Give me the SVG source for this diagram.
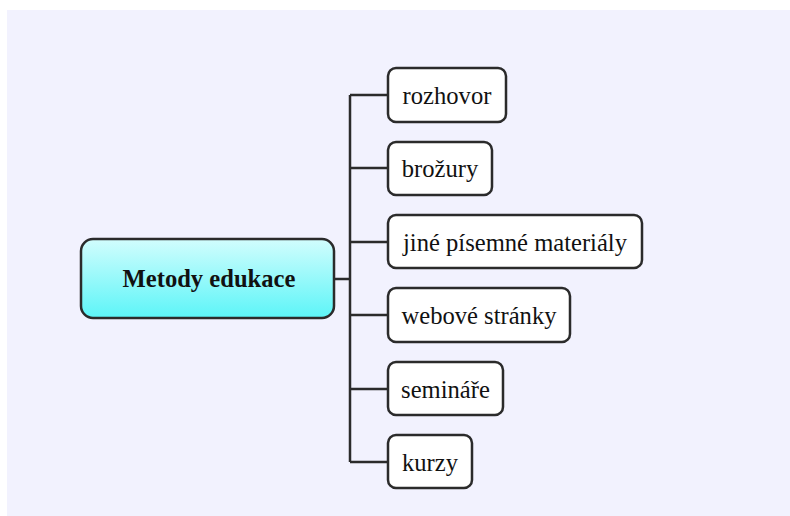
<svg xmlns="http://www.w3.org/2000/svg" width="790" height="516" viewBox="0 0 790 516">
  <style>
    .topic { fill: #ffffff; stroke: #2b2b2b; stroke-width: 2.5; }
    .root { fill: url(#rootFill); stroke: #2b2b2b; stroke-width: 2.5; }
    .label { font-family: "Liberation Serif", "Times New Roman", serif; font-size: 24.6px; fill: #111111; text-anchor: middle; }
    .rootLabel { font-family: "Liberation Serif", "Times New Roman", serif; font-size: 24.6px; font-weight: bold; fill: #111111; text-anchor: middle; }
    .wire { fill: none; stroke: #2b2b2b; stroke-width: 2.5; }
  </style>
  <defs>
    <linearGradient id="rootFill" x1="0" y1="0" x2="0" y2="1">
      <stop offset="0" stop-color="#d2fdfd"/>
      <stop offset="1" stop-color="#5cf5f8"/>
    </linearGradient>
  </defs>

  <rect x="0" y="0" width="790" height="516" fill="#ffffff"/>
  <rect x="7" y="10" width="783" height="506" fill="#f2f2fe"/>

  <g id="connectors">
    <path class="wire" d="M334 279 H350"/>
    <path class="wire" d="M350 95 V462"/>
    <path class="wire" d="M350 95 H388"/>
    <path class="wire" d="M350 168 H388"/>
    <path class="wire" d="M350 242 H388"/>
    <path class="wire" d="M350 315 H388"/>
    <path class="wire" d="M350 389 H388"/>
    <path class="wire" d="M350 462 H388"/>
  </g>

  <g id="metody-edukace">
    <rect class="root" x="81" y="239" width="253" height="79" rx="12"/>
    <text class="rootLabel" x="209" y="287">Metody edukace</text>
  </g>

  <g id="rozhovor">
    <rect class="topic" x="388" y="68" width="118" height="54" rx="8"/>
    <text class="label" x="447" y="104">rozhovor</text>
  </g>

  <g id="brozury">
    <rect class="topic" x="388" y="142" width="104" height="53" rx="8"/>
    <text class="label" x="440" y="177">brožury</text>
  </g>

  <g id="jine-pisemne-materialy">
    <rect class="topic" x="388" y="215" width="254" height="53" rx="8"/>
    <text class="label" x="515" y="251">jiné písemné materiály</text>
  </g>

  <g id="webove-stranky">
    <rect class="topic" x="388" y="288" width="182" height="54" rx="8"/>
    <text class="label" x="479" y="324">webové stránky</text>
  </g>

  <g id="seminare">
    <rect class="topic" x="388" y="362" width="115" height="53" rx="8"/>
    <text class="label" x="445.5" y="398">semináře</text>
  </g>

  <g id="kurzy">
    <rect class="topic" x="388" y="435" width="84" height="53" rx="8"/>
    <text class="label" x="430" y="471">kurzy</text>
  </g>
</svg>
